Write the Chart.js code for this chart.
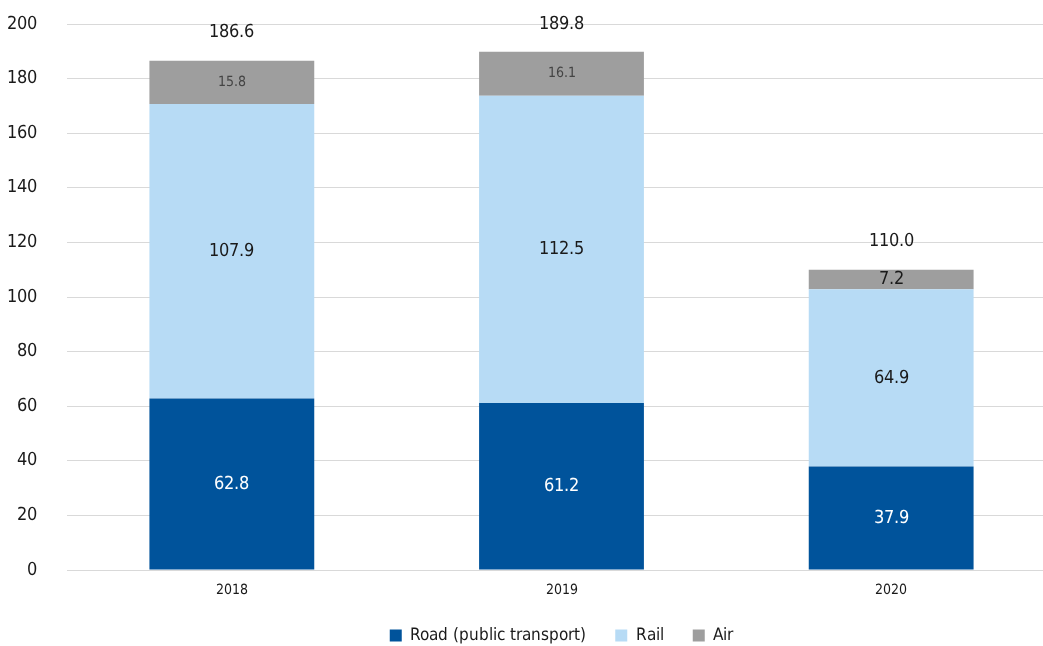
<!DOCTYPE html>
<html lang="en">
<head>
    <meta charset="UTF-8">
    <title>Passenger transport by mode</title>
    <script src="https://cdn.jsdelivr.net/npm/chart.js@4.4.1/dist/chart.umd.min.js"></script>
    <style>
        @font-face {
            font-family: 'NarrowSans';
            src: local('DejaVu Sans Condensed'), local('DejaVuSansCondensed'),
                 local('Liberation Sans Narrow'), local('LiberationSansNarrow-Regular');
        }
        html, body {
            margin: 0;
            padding: 0;
            background: #fff;
            overflow: hidden;
        }
        #chartContainer {
            position: relative;
            width: 1056px;
            height: 646px;
        }
    </style>
</head>
<body>
    <div id="chartContainer">
        <canvas id="myChart"></canvas>
    </div>

    <script>
        const years = ['2018', '2019', '2020'];
        const road = [62.8, 61.2, 37.9];   // public transport
        const rail = [107.9, 112.5, 64.9];
        const air = [15.8, 16.1, 7.2];
        const totals = [186.6, 189.8, 110.0];
        const yTicks = [0, 20, 40, 60, 80, 100, 120, 140, 160, 180, 200];

        const FONT = 'NarrowSans, "Liberation Sans Narrow", "DejaVu Sans Condensed", sans-serif';
        const TEXT = '#1a1a1a';
        const LEGEND_HEIGHT = 48;

        // label colours per series; the air segment labels are smaller on the tall grey blocks
        function labelStyle(dsIndex, i, height) {
            if (dsIndex === 0) return {color: '#ffffff', size: 18};
            if (dsIndex === 1) return {color: TEXT, size: 18};
            return height > 25 ? {color: '#444444', size: 14} : {color: TEXT, size: 18};
        }

        const valueLabels = {
            id: 'valueLabels',
            afterDatasetsDraw(chart) {
                const c = chart.ctx;
                c.save();
                c.textAlign = 'center';
                c.textBaseline = 'middle';
                chart.data.datasets.forEach((ds, d) => {
                    const meta = chart.getDatasetMeta(d);
                    meta.data.forEach((bar, i) => {
                        const h = Math.abs(bar.base - bar.y);
                        const st = labelStyle(d, i, h);
                        c.fillStyle = st.color;
                        c.font = st.size + 'px ' + FONT;
                        c.fillText(ds.data[i].toFixed(1), bar.x, (bar.y + bar.base) / 2);
                    });
                });
                // stack totals above each bar
                const yScale = chart.scales.y;
                const top = chart.getDatasetMeta(0).data;
                c.fillStyle = TEXT;
                c.font = '18px ' + FONT;
                totals.forEach((t, i) => {
                    c.fillText(t.toFixed(1), top[i].x, yScale.getPixelForValue(t) - 28);
                });
                c.restore();
            }
        };

        // wide gaps between legend items but a short legend box
        const shortLegend = {
            id: 'shortLegend',
            beforeLayout(chart) {
                const lg = chart.legend;
                if (!lg || lg._shortFit) return;
                const fit = lg.fit;
                lg.fit = function () {
                    fit.call(this);
                    this.height = LEGEND_HEIGHT;
                };
                lg._shortFit = true;
            }
        };

        function draw() {
            const ctx = document.getElementById('myChart').getContext('2d');
            new Chart(ctx, {
                type: 'bar',
                data: {
                    labels: years,
                    datasets: [
                        {label: 'Road (public transport)', data: road, backgroundColor: '#00539b'},
                        {label: 'Rail', data: rail, backgroundColor: '#b7dbf5'},
                        {label: 'Air', data: air, backgroundColor: '#9e9e9e'}
                    ]
                },
                options: {
                    responsive: true,
                    maintainAspectRatio: false,
                    animation: false,
                    categoryPercentage: 1,
                    barPercentage: 0.5,
                    layout: {padding: {top: 24, right: 0, bottom: 0, left: 0}},
                    plugins: {
                        tooltip: {enabled: false},
                        legend: {
                            position: 'bottom',
                            fullSize: false,
                            labels: {
                                boxWidth: 12,
                                boxHeight: 12,
                                padding: 29,
                                color: TEXT,
                                font: {family: FONT, size: 17}
                            }
                        }
                    },
                    scales: {
                        x: {
                            stacked: true,
                            afterFit(scale) {
                                scale.height = 28;
                            },
                            grid: {display: false, drawTicks: false},
                            border: {display: true, color: '#d9d9d9'},
                            ticks: {color: TEXT, padding: 12, font: {family: FONT, size: 14}}
                        },
                        y: {
                            stacked: true,
                            min: 0,
                            max: 200,
                            afterBuildTicks(scale) {
                                scale.ticks = yTicks.map(v => ({value: v}));
                            },
                            afterFit(scale) {
                                scale.width = 67;
                            },
                            // invisible tick marks push the labels away from the plot
                            grid: {color: '#d9d9d9', drawTicks: true, tickLength: 30, tickColor: 'rgba(0,0,0,0)'},
                            border: {display: false},
                            ticks: {color: TEXT, padding: 0, font: {family: FONT, size: 18}}
                        }
                    }
                },
                plugins: [shortLegend, valueLabels]
            });
        }

        document.fonts.load('18px NarrowSans').then(draw, draw);
    </script>
</body>
</html>
